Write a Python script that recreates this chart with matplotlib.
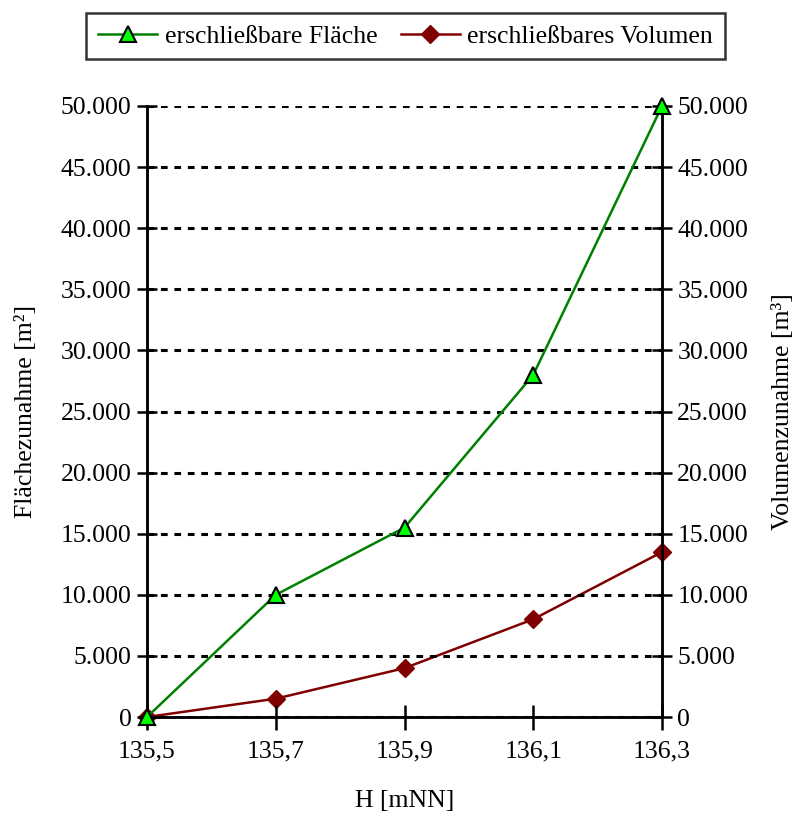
import matplotlib.pyplot as plt
from matplotlib.ticker import FuncFormatter

plt.rcParams['font.family'] = ['Liberation Serif', 'DejaVu Serif']

# Höhen und Zunahmen
hoehe = [135.5, 135.7, 135.9, 136.1, 136.3]
flaeche = [0, 10000, 15500, 28000, 50000]
volumen = [0, 1500, 4000, 8000, 13500]
x_labels = ['135,5', '135,7', '135,9', '136,1', '136,3']

fs = 18.5


def tausender(v, pos):
    return f'{int(v):,}'.replace(',', '.')


fig = plt.figure(figsize=(8, 8.16), dpi=100)
ax1 = fig.add_axes([0.18375, 0.1213, 0.64375, 0.7488])
ax2 = ax1.twinx()

l1, = ax1.plot(hoehe, flaeche, color='#008000', lw=1.8, marker='^', ms=11,
               mfc='#00ff00', mec='black', mew=1.5, label='erschließbare Fläche',
               zorder=3, clip_on=False)
l2, = ax2.plot(hoehe, volumen, color='#800000', lw=1.8, marker='D', ms=9,
               mfc='#800000', mec='#800000', label='erschließbares Volumen',
               zorder=3, clip_on=False)

for ax in (ax1, ax2):
    ax.set_ylim(0, 50000)
    ax.set_yticks(range(0, 50001, 5000))
    ax.yaxis.set_major_formatter(FuncFormatter(tausender))
    ax.set_xlim(135.5, 136.3)
    ax.spines['top'].set_visible(False)
    for s in ax.spines.values():
        s.set_linewidth(1.8)
    ax.tick_params(axis='y', direction='inout', length=14, width=1.8, labelsize=fs, pad=4)
    ax.patch.set_visible(False)

ax1.set_zorder(ax2.get_zorder() + 1)
ax1.set_xticks(hoehe)
ax1.set_xticklabels(x_labels)
ax1.tick_params(axis='x', direction='inout', length=18, width=1.8, labelsize=fs, pad=8)
ax1.yaxis.grid(True, color='black', linestyle=(0, (2.2, 2.2)), lw=2.2)
ax1.set_axisbelow(True)

ax1.set_xlabel('H [mNN]', fontsize=fs, labelpad=20)
ax1.set_ylabel('Flächezunahme [m²]', fontsize=fs, labelpad=17)
ax2.set_ylabel('Volumenzunahme [m³]', fontsize=fs, labelpad=17)

leg = fig.legend(handles=[l1, l2], loc='upper center', bbox_to_anchor=(0.507, 0.984),
                 ncol=2, fontsize=fs, frameon=True, fancybox=False, edgecolor='black',
                 handlelength=2.3, columnspacing=0.9, handletextpad=0.3, borderpad=0.45,
                 borderaxespad=0)
leg.get_frame().set_linewidth(1.8)

fig.savefig('out.png', dpi=100)
